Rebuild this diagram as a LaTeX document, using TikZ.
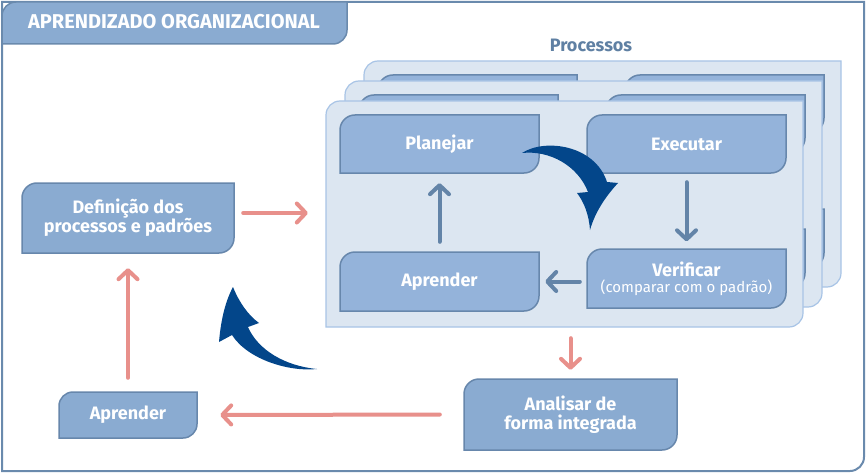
\documentclass[tikz,border=0pt]{standalone}
\usepackage{fontspec}
\setmainfont{Fira Sans}
\usetikzlibrary{arrows.meta}
\definecolor{framecol}{HTML}{6A8AAD}
\definecolor{oboxfill}{HTML}{8AABD1}
\definecolor{iboxfill}{HTML}{94B3DA}
\definecolor{boxline}{HTML}{6787AC}
\definecolor{panelfill}{HTML}{DCE6F1}
\definecolor{panelline}{HTML}{A8C4E6}
\definecolor{pinkcol}{HTML}{E8908B}
\definecolor{slatecol}{HTML}{6384A8}
\definecolor{navycol}{HTML}{03468A}
\definecolor{proccol}{HTML}{5F80A3}
\tikzset{
  framesty/.style={draw=framecol,line width=2pt,fill=white},
  tabsty/.style={draw=framecol,line width=1.5pt,fill=oboxfill},
  panelsty/.style={draw=panelline,line width=1.2pt,fill=panelfill},
  iboxsty/.style={draw=boxline,line width=1.5pt,fill=iboxfill},
  oboxsty/.style={draw=boxline,line width=1.5pt,fill=oboxfill},
  txt/.style={text=white,font=\fontsize{18}{19}\selectfont\bfseries,align=center,inner sep=0pt},
  pkarrow/.style={draw=pinkcol,line width=4pt,line cap=round,-{Straight Barb[length=9pt,width=19pt,round]}},
  slarrow/.style={draw=slatecol,line width=4pt,line cap=round,-{Straight Barb[length=9pt,width=19pt,round]}},
  curvearrow/.style={fill=navycol}
}
% rounded top-left and bottom-right corners: style, x1, y1, x2, y2, radius
\newcommand\tlbr[6]{\path[#1] (#2,#5) -- (#2,#3+#6) .. controls (#2,#3+0.448*#6) and (#2+0.448*#6,#3) .. (#2+#6,#3) -- (#4,#3) -- (#4,#5-#6) .. controls (#4,#5-0.448*#6) and (#4-0.448*#6,#5) .. (#4-#6,#5) -- cycle;}
\newcommand\panelset{%
  \tlbr{panelsty}{326}{101}{803}{327}{14}
  \tlbr{iboxsty}{340}{115}{539}{173}{15}
  \tlbr{iboxsty}{587}{115}{786}{173}{15}
  \tlbr{iboxsty}{340}{252}{539}{311}{15}
  \tlbr{iboxsty}{587}{249}{786}{308}{15}}
\begin{document}
\begin{tikzpicture}[x=1pt,y=-1pt]
\useasboundingbox (0,0) rectangle (866,473);
% outer frame
\path[framesty] (2,2) -- (864,2) -- (864,457) .. controls (864,464.7) and (857.7,471) .. (850,471) -- (2,471) -- cycle;
% title tab
\tlbr{tabsty}{2}{2}{347}{44}{14}
\node[txt,font=\fontsize{20}{22}\selectfont\bfseries] (title) at (174,22) {APRENDIZADO ORGANIZACIONAL};
% Processos label
\node[text=proccol,font=\fontsize{18}{19}\selectfont\bfseries,inner sep=0pt] (proc) at (591,45) {Processos};
% stacked panels
\begin{scope}[shift={(38,-40)}]\panelset\end{scope}
\begin{scope}[shift={(19,-20)}]\panelset\end{scope}
\panelset
\node[minimum width=477,minimum height=226,inner sep=0pt] (panel) at (564.5,214) {};
% outer boxes
\tlbr{oboxsty}{22}{183}{234}{253}{15}
\tlbr{oboxsty}{59}{392}{197}{438}{14}
\tlbr{oboxsty}{464}{379}{677}{450}{15}
% text nodes
\node[txt,minimum width=199,minimum height=58] (plan) at (439.5,144) {Planejar};
\node[txt,minimum width=199,minimum height=58] (exec) at (686.5,144) {Executar};
\node[txt,minimum width=199,minimum height=59] (apr) at (439.5,281.5) {Aprender};
\node[txt,minimum width=199,minimum height=59] (ver) at (686.5,279) {Verificar\\[-3pt]{\fontsize{15}{16}\selectfont\mdseries (comparar com o padrão)}};
\node[txt,minimum width=212,minimum height=70] (def) at (128,218) {Definição dos\\processos e padrões};
\node[txt,minimum width=138,minimum height=46] (apr2) at (128,415) {Aprender};
\node[txt,minimum width=213,minimum height=71] (ana) at (570.5,414.5) {Analisar de\\forma integrada};
% inner arrows
\draw[slarrow,shorten <=10pt,shorten >=10pt] (apr.north) -- (plan.south);
\draw[slarrow,shorten <=9pt,shorten >=8pt] (exec.south) -- (ver.north);
\draw[slarrow,shorten <=7pt,shorten >=6pt] (apr.east -| ver.west) -- (apr.east);
% outer arrows
\draw[pkarrow,shorten <=9pt,shorten >=18pt] ([yshift=5pt]def.east) -- ([yshift=5pt]def.east -| panel.west);
\draw[pkarrow,shorten <=11pt,shorten >=9pt] (ana.north |- panel.south) -- (ana.north);
\draw[pkarrow,shorten <=24pt,shorten >=23pt] (ana.west) -- (apr2.east);
\draw[pkarrow,shorten <=14pt,shorten >=15pt] (apr2.north) -- (def.south);
% curved arrows
\fill[curvearrow] (522,153) .. controls (545,138) and (595,145) .. (607,182) -- (618,183) .. controls (606,196) and (595,212) .. (590,230) .. controls (589,215) and (584,202) .. (577,193) -- (588,192) .. controls (578,166) and (550,150) .. (522,153) -- cycle;
\fill[curvearrow] (317,369) .. controls (290,372) and (248,360) .. (232,335) -- (219,342) .. controls (221,318) and (226,300) .. (233,287) .. controls (239,302) and (248,315) .. (259,323) -- (248,327) .. controls (258,350) and (285,366) .. (317,369) -- cycle;
\end{tikzpicture}
\end{document}
